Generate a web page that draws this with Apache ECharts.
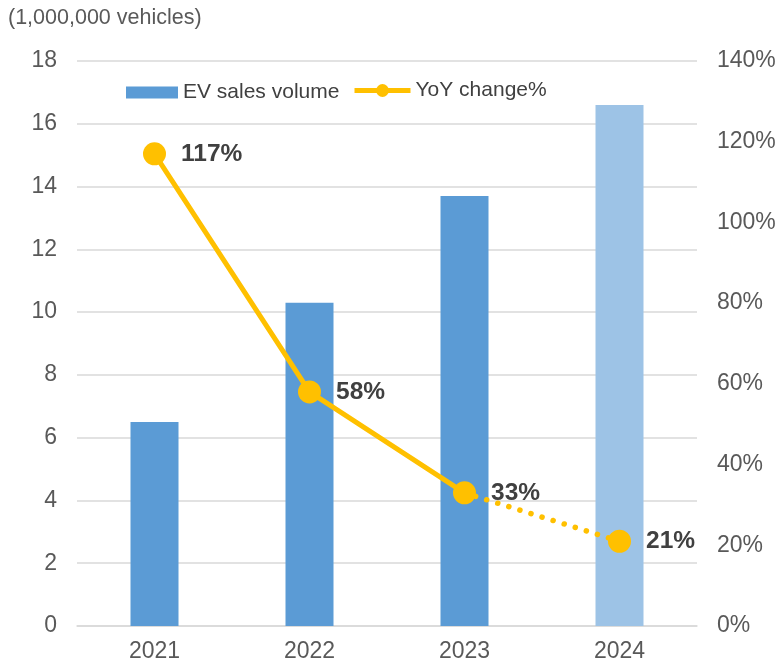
<!DOCTYPE html>
<html><head><meta charset="utf-8">
<script src="https://cdn.jsdelivr.net/npm/echarts@6/dist/echarts.min.js"></script>
<style>html,body{margin:0;padding:0;background:#fff}#c{width:780px;height:665px}</style>
</head><body><div id="c"></div>
<script>
const categories = ['2021', '2022', '2023', '2024'];
const salesVolume = [6.5, 10.3, 13.7, 16.6];
const yoyChange = [117, 58, 33, 21];
const leftTicks = [0, 2, 4, 6, 8, 10, 12, 14, 16, 18];
const rightTicks = [0, 20, 40, 60, 80, 100, 120, 140];

const barColors = ['#5B9BD5', '#5B9BD5', '#5B9BD5', '#9DC3E6'];
const solidData = yoyChange.map((v, i) => i <= 2 ? v : null);
const dottedData = yoyChange.map((v, i) => i >= 2 ? (i === 2 ? {value: v, symbol: 'none', label: {show: false}} : v) : null);

const labelStyle = {show: true, position: 'right', distance: 15, formatter: p => p.value + '%', fontFamily: 'Liberation Sans, Arial', fontWeight: 'bold', fontSize: 24.5, color: '#404040'};

const chart = echarts.init(document.getElementById('c'));
chart.setOption({
  animation: false,
  textStyle: {fontFamily: 'Liberation Sans, Arial'},
  title: {text: '(1,000,000 vehicles)', left: 8, top: 7, padding: 0, textStyle: {fontSize: 21.5, fontWeight: 'normal', color: '#595959'}},
  grid: {left: 77, right: 83, top: 61, bottom: 39},
  legend: [{
    left: 121, top: 77, itemWidth: 52, itemHeight: 12, itemGap: 9,
    data: [{name: 'EV sales volume', icon: 'rect'}],
    textStyle: {fontSize: 21, color: '#404040'}
  }, {
    left: 347, top: 75, itemWidth: 56, itemHeight: 16, itemGap: 9,
    lineStyle: {width: 5},
    data: [{name: 'YoY change%'}],
    textStyle: {fontSize: 21, color: '#404040'}
  }],
  xAxis: {
    type: 'category', data: categories,
    axisLine: {lineStyle: {color: '#D9D9D9', width: 1.5}},
    axisTick: {show: false},
    axisLabel: {fontSize: 23, color: '#595959', margin: 14}
  },
  yAxis: [
    {type: 'value', min: 0, max: 18, interval: 2,
     axisLabel: {fontSize: 23, color: '#595959', margin: 20},
     splitLine: {lineStyle: {color: '#D9D9D9', width: 1.5}},
     axisLine: {show: false}, axisTick: {show: false}},
    {type: 'value', min: 0, max: 140, interval: 20,
     axisLabel: {fontSize: 23, color: '#595959', margin: 20, formatter: '{value}%'},
     splitLine: {show: false}, axisLine: {show: false}, axisTick: {show: false}}
  ],
  series: [
    {name: 'EV sales volume', type: 'bar', barWidth: 48, yAxisIndex: 0,
     itemStyle: {color: '#5B9BD5'},
     data: salesVolume.map((v, i) => ({value: v, itemStyle: {color: barColors[i]}}))},
    {name: 'YoY change%', type: 'line', yAxisIndex: 1, data: solidData,
     symbol: 'circle', symbolSize: 23, z: 5,
     lineStyle: {color: '#FFC000', width: 5}, itemStyle: {color: '#FFC000'},
     label: labelStyle},
    {name: 'YoY dotted', type: 'line', yAxisIndex: 1, data: dottedData,
     symbol: 'circle', symbolSize: 23, z: 4,
     lineStyle: {color: '#FFC000', width: 5.5, type: [0.1, 11.5], cap: 'round'}, itemStyle: {color: '#FFC000'},
     label: labelStyle}
  ]
});
</script></body></html>
